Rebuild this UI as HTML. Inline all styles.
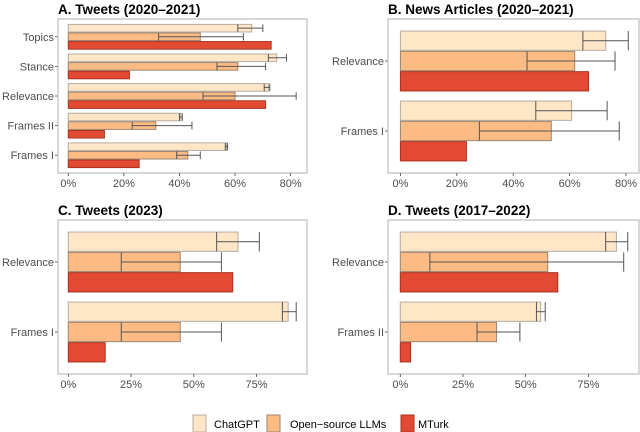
<!DOCTYPE html>
<html><head><meta charset="utf-8">
<style>
body{margin:0;background:#fff;}
svg{display:block;font-family:"Liberation Sans",sans-serif;}
</style></head>
<body>
<svg id="chart" width="640" height="432" viewBox="0 0 640 432" xmlns="http://www.w3.org/2000/svg"></svg>
<script>
// Panel A
const catsA = ["Topics","Stance","Relevance","Frames II","Frames I"];
const gptA = [66,75,72,40.5,57];
const gptLoA = [61,72,70.5,40,56.5];
const gptHiA = [70,78.5,72.5,41,57.3];
const osA = [47.5,61,60,31.5,43];
const osLoA = [32.5,53.5,48.5,23,39];
const osHiA = [63,71,82,44.5,47.5];
const mtA = [73,22,71,13,25.5];
const ticksA = [0,20,40,60,80];
// Panel B
const catsB = ["Relevance","Frames I"];
const gptB = [72.8,60.7];
const gptLoB = [64.7,48];
const gptHiB = [80.8,73.3];
const osB = [61.8,53.5];
const osLoB = [44.9,28];
const osHiB = [76.1,77.6];
const mtB = [66.7,23.4];
const ticksB = [0,20,40,60,80];
// Panel C
const catsC = ["Relevance","Frames I"];
const gptC = [67.6,87.6];
const gptLoC = [59.1,85.3];
const gptHiC = [76.1,90.8];
const osC = [44.6,44.6];
const osLoC = [21.1,21.1];
const osHiC = [61,61];
const mtC = [65.5,14.7];
const ticksC = [0,25,50,75];
// Panel D
const catsD = ["Relevance","Frames II"];
const gptD = [86.2,56];
const gptLoD = [81.9,54.3];
const gptHiD = [90.7,57.8];
const osD = [58.8,38.4];
const osLoD = [11.8,30.6];
const osHiD = [89.1,47.7];
const mtD = [62.8,4.1];
const ticksD = [0,25,50,75];
const seriesNames = ["ChatGPT","Open-source LLMs","MTurk"];

const NS="http://www.w3.org/2000/svg";
const svg=document.getElementById('chart');
function mk(tag,attrs,parent){const e=document.createElementNS(NS,tag);for(const k in attrs)e.setAttribute(k,attrs[k]);(parent||svg).appendChild(e);return e;}
const fills=["#fee6c6","#fdbb84","#e34a33"];
const strokes=["#b5aca2","#9a8672","#a8321f"];

function panel(key,title,x0,y0,w,h,xmin,xmax,cats,vals,los,his,ticks){
  const g=mk('g',{});
  
  
  const t=mk('text',{x:x0,y:y0-5,'font-size':'13.5','font-weight':'bold',fill:'#000'},g);
  t.textContent=title;
  
  
  const xs=v=>x0+(v-xmin)/(xmax-xmin)*w;
  const n=cats.length, step=h/(n-1+1.2);
  const bw=step*0.87/3;
  for(let i=0;i<n;i++){
    const cy=y0+(0.6+i)*step;
    for(let s=0;s<3;s++){
      const by=cy-step*0.87/2+s*bw;
      const r=mk('rect',{x:xs(0),y:by+0.5,width:xs(vals[s][i])-xs(0),height:bw-1,fill:fills[s],stroke:strokes[s],'stroke-width':1},g);
      
      
      if(s<2){
        const lo=los[s][i], hi=his[s][i], m=by+bw/2;
        const eg=mk('g',{stroke:'#555','stroke-width':1},g);
        
        
        mk('line',{x1:xs(lo),x2:xs(hi),y1:m,y2:m},eg);
        mk('line',{x1:xs(lo),x2:xs(lo),y1:by+0.5,y2:by+bw-0.5},eg);
        mk('line',{x1:xs(hi),x2:xs(hi),y1:by+0.5,y2:by+bw-0.5},eg);
      }
    }
    const lb=mk('text',{x:x0-4,y:cy+4,'text-anchor':'end','font-size':'11',fill:'#4d4d4d'},g);
    lb.textContent=cats[i];
    
    
    mk('line',{x1:x0-3,x2:x0,y1:cy,y2:cy,stroke:'#444','stroke-width':0.8},g);
  }
  const fr=mk('rect',{x:x0,y:y0,width:w,height:h,fill:'none',stroke:'#bdbdbd','stroke-width':1.2},g);
  
  
  ticks.forEach(tv=>{
    const tx=xs(tv);
    mk('line',{x1:tx,x2:tx,y1:y0+h,y2:y0+h+3,stroke:'#444','stroke-width':0.8},g);
    const tl=mk('text',{x:tx,y:y0+h+14,'text-anchor':'middle','font-size':'11',fill:'#4d4d4d'},g);
    tl.textContent=tv+'%';
    
    
  });
}
panel('a','A. Tweets (2020\u20132021)',58,19,249,154,-3.7,85.9,catsA,[gptA,osA,mtA],[gptLoA,osLoA],[gptHiA,osHiA],ticksA);
panel('b','B. News Articles (2020\u20132021)',388,19,251,154,-4.4,84.6,catsB,[gptB,osB,mtB],[gptLoB,osLoB],[gptHiB,osHiB],ticksB);
panel('c','C. Tweets (2023)',58,220,249,154,-4.1,95.1,catsC,[gptC,osC,mtC],[gptLoC,osLoC],[gptHiC,osHiC],ticksC);
panel('d','D. Tweets (2017\u20132022)',388,220,251,154,-4.9,95.2,catsD,[gptD,osD,mtD],[gptLoD,osLoD],[gptHiD,osHiD],ticksD);

// legend
const lg=mk('g',{});


const lx=[193,267,401], tx=[214,290,418];
seriesNames.forEach((nm,i)=>{
  const b=mk('rect',{x:lx[i],y:415,width:13,height:17,fill:fills[i],stroke:strokes[i],'stroke-width':1},lg);
  
  
  const t=mk('text',{x:tx[i],y:428,'font-size':'11',fill:'#000'},lg);
  t.textContent=nm.replace('-','\u2212');
  
  
});
</script>
</body></html>
